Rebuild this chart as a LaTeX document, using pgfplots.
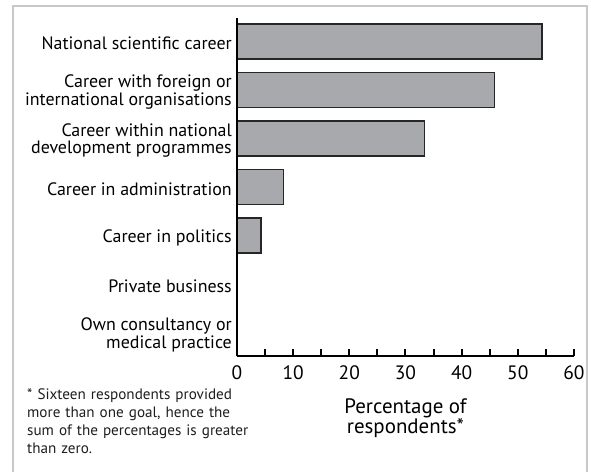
\documentclass[border=0pt]{standalone}
\usepackage{fontspec}
\setmainfont{PT Sans}
\usepackage{pgfplots}
\pgfplotsset{compat=1.18}
\definecolor{barfill}{RGB}{168,169,173}
\definecolor{frame}{RGB}{200,200,200}
\definecolor{note}{RGB}{30,30,30}
\begin{document}
\begin{tikzpicture}
% picture is 591 x 472 px; 1 px = 1 bp, axis box lower left at (0,0)
\useasboundingbox (-237bp,-116bp) rectangle (354bp,356bp);
\draw[frame, line width=2.5bp] (-224bp,-118bp) -- (-224bp,350bp) -- (350bp,350bp) -- (350bp,-118bp);
\begin{axis}[
    scale only axis,
    width=337bp, height=338bp,
    xbar, bar width=35bp,
    xmin=0, xmax=60,
    ymin=-0.485, ymax=6.485,
    separate axis lines,
    axis x line*=bottom, axis y line*=left,
    axis line style={line width=2.2bp, black},
    axis on top,
    xtick={0,10,...,60},
    minor xtick={5,15,...,55},
    tick align=inside,
    xtick pos=bottom,
    major tick length=7bp, minor tick length=7bp,
    xtick style={line width=2bp, black},
    ytick={0,...,6},
    ytick style={draw=none},
    yticklabels={{Own consultancy or\\medical practice},{Private business},{Career in politics},{Career in administration},{Career within national\\development programmes},{Career with foreign or\\international organisations},{National scientific career}},
    yticklabel style={align=right, font=\fontsize{18}{18}\selectfont, inner sep=0pt, xshift=-5bp, yshift=-2bp},
    xticklabel style={font=\fontsize{19.5}{19}\selectfont, inner sep=0pt, yshift=-9bp},
    /pgf/number format/assume math mode=true,
    xlabel={Percentage of\\respondents*},
    xlabel style={at={(axis description cs:0.5,0)}, anchor=north, align=center,
        font=\fontsize{21}{18.5}\selectfont, inner sep=0pt, yshift=-42bp},
]
\addplot[fill=barfill, draw=black!85, line width=1.3bp] coordinates {
    (54.3,6) (45.9,5) (33.4,4) (8.3,3) (4.3,2) (0,1) (0,0)
};
\end{axis}
\node[anchor=north west, align=left, text width=240bp, inner sep=0pt, text=note,
      font=\fontsize{15.2}{18.3}\selectfont] at (-210bp,-32bp)
  {* Sixteen respondents provided\\more than one goal, hence the\\sum of the percentages is greater\\than zero.};
\end{tikzpicture}
\end{document}
